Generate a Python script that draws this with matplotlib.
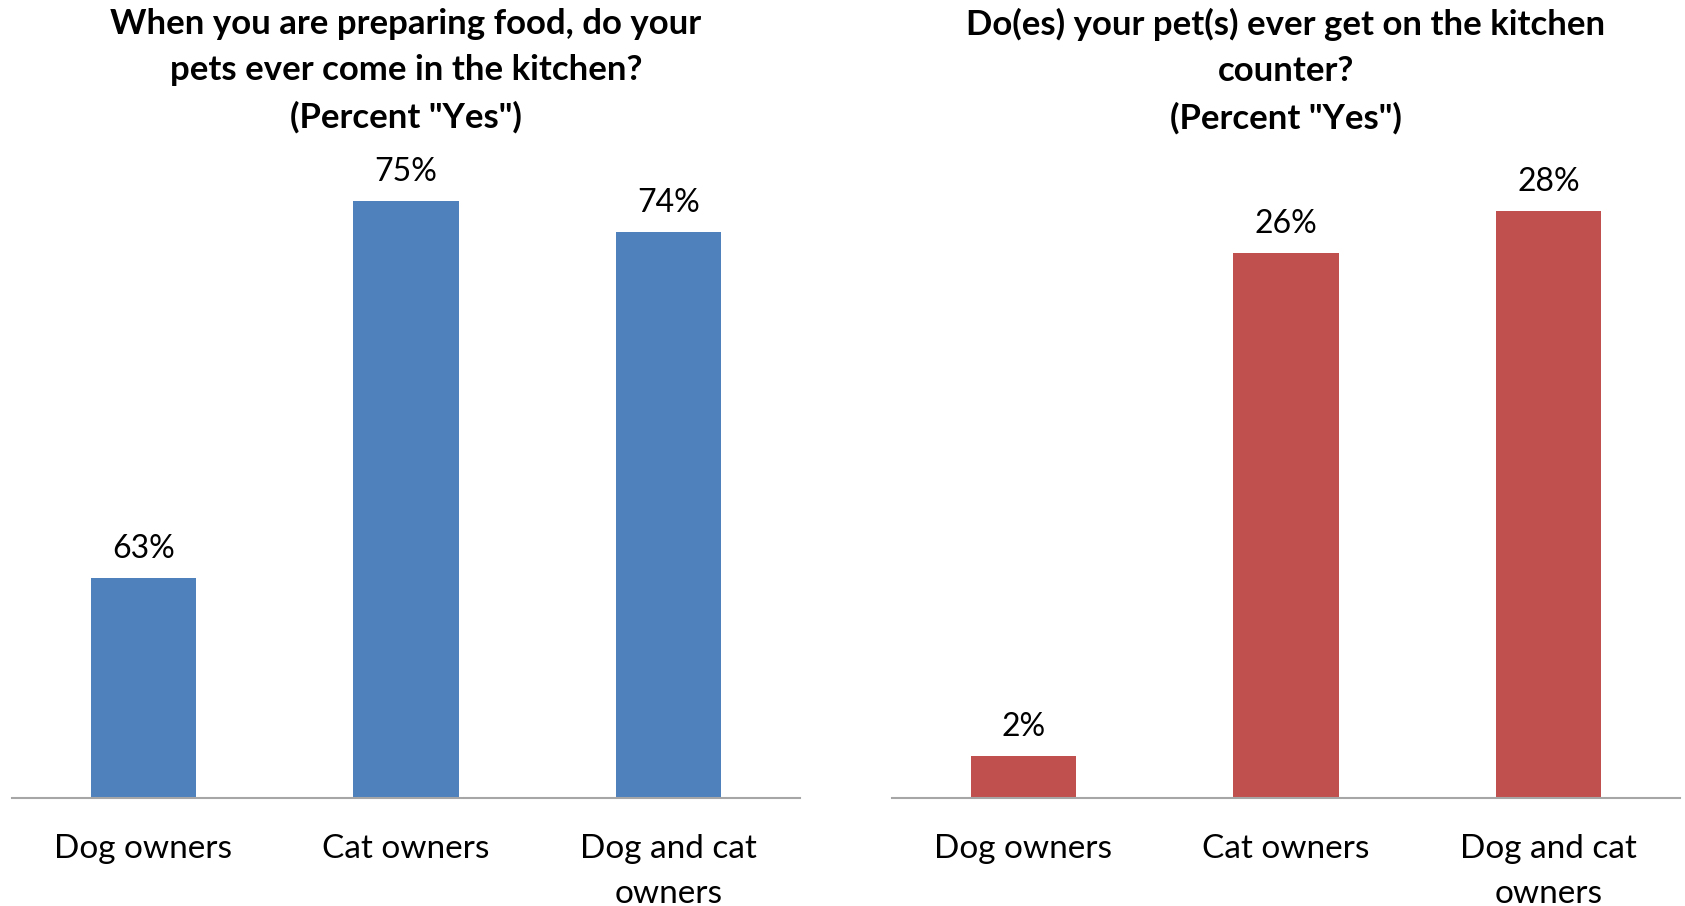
import matplotlib.pyplot as plt

# Data
categories = ["Dog owners", "Cat owners", "Dog and cat\nowners"]
kitchen_yes = [63, 75, 74]
counter_yes = [2, 26, 28]

title_left = 'When you are preparing food, do your\npets ever come in the kitchen?\n(Percent "Yes")'
title_right = 'Do(es) your pet(s) ever get on the kitchen\ncounter?\n(Percent "Yes")'

plt.rcParams['font.family'] = ['Lato', 'DejaVu Sans']

fig = plt.figure(figsize=(16.85, 9.06), dpi=100)

bottom = 1 - 798 / 906
height = 638 / 906
ax1 = fig.add_axes([12 / 1685, bottom, 788 / 1685, height])
ax2 = fig.add_axes([892 / 1685, bottom, 788 / 1685, height])


def draw(ax, values, color, ylim, title):
    x = range(len(categories))
    bars = ax.bar(x, values, width=0.4, color=color)
    ax.set_xlim(-0.5, len(categories) - 0.5)
    ax.set_ylim(*ylim)
    for b, v in zip(bars, values):
        ax.annotate(f"{v}%", (b.get_x() + b.get_width() / 2, v),
                    xytext=(0, 10), textcoords="offset points",
                    ha="center", va="bottom", fontsize=23)
    ax.set_xticks(list(x))
    ax.set_xticklabels(categories, fontsize=24, linespacing=1.63)
    ax.tick_params(axis='x', length=0, pad=26)
    ax.set_yticks([])
    for s in ['left', 'right', 'top']:
        ax.spines[s].set_visible(False)
    ax.spines['bottom'].set_color('#a6a6a6')
    ax.spines['bottom'].set_linewidth(1.5)
    ax.patch.set_visible(False)
    cx = ax.get_position().x0 + ax.get_position().width / 2
    fig.text(cx, 1 - 8 / 906, title, ha='center', va='top',
             fontsize=25, fontweight='bold', linespacing=1.55)


draw(ax1, kitchen_yes, '#4f81bd', (56, 76.3), title_left)
draw(ax2, counter_yes, '#c0504d', (0, 30.45), title_right)

fig.savefig("out.png", dpi=100)
